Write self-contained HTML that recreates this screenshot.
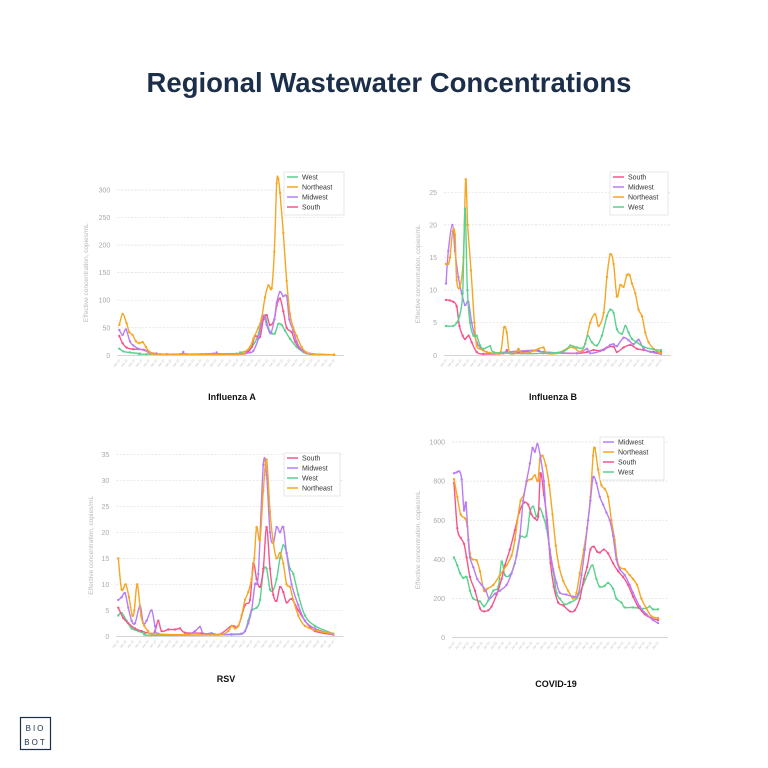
<!DOCTYPE html><html><head><meta charset="utf-8"><style>
html,body{margin:0;padding:0;background:#fff;width:768px;height:768px;overflow:hidden}
svg{display:block}
</style></head><body>
<svg id="s" width="768" height="768" xmlns="http://www.w3.org/2000/svg" font-family="Liberation Sans, sans-serif">
<text x="389" y="92" text-anchor="middle" font-size="27.5" font-weight="bold" fill="#1b2f4b">Regional Wastewater Concentrations</text>
<text x="232" y="400" text-anchor="middle" font-size="9" font-weight="bold" fill="#111">Influenza A</text>
<text x="553" y="400" text-anchor="middle" font-size="9" font-weight="bold" fill="#111">Influenza B</text>
<text x="226" y="682" text-anchor="middle" font-size="9" font-weight="bold" fill="#111">RSV</text>
<text x="556" y="687" text-anchor="middle" font-size="9" font-weight="bold" fill="#111">COVID-19</text>
<rect x="20.5" y="717.5" width="30" height="32" fill="none" stroke="#1b2f4b" stroke-width="1.2"/>
<text x="35.5" y="731" text-anchor="middle" font-size="8" letter-spacing="2" fill="#1b2f4b">BIO</text>
<text x="35.5" y="745" text-anchor="middle" font-size="8" letter-spacing="2" fill="#1b2f4b">BOT</text>
<g id="g"></g>
</svg>
<script>
const C={West:"#5ad18e",Northeast:"#f5a623",Midwest:"#b87cf5",South:"#f5558a"};
const g=document.getElementById("g");let h="";
function P(s){const a=s.trim().split(/[\s,]+/);const r=[];for(const q of a){const [x,v]=q.split(":").map(Number);r.push([x,v]);}return r;}
function smooth(pts){let d=`M${pts[0][0].toFixed(1)},${pts[0][1].toFixed(1)}`;
 for(let i=0;i<pts.length-1;i++){const p0=pts[Math.max(0,i-1)],p1=pts[i],p2=pts[i+1],p3=pts[Math.min(pts.length-1,i+2)];
  const c1x=p1[0]+(p2[0]-p0[0])/6,c1y=p1[1]+(p2[1]-p0[1])/6,c2x=p2[0]-(p3[0]-p1[0])/6,c2y=p2[1]-(p3[1]-p1[1])/6;
  d+=` C${c1x.toFixed(1)},${c1y.toFixed(1)} ${c2x.toFixed(1)},${c2y.toFixed(1)} ${p2[0].toFixed(1)},${p2[1].toFixed(1)}`;}
 return d;}
function chart(o){
 const {x0,x1,z0,z1,y0,ymaxPx,ymax,step,series,leg,lx,ly,lw,ylx}=o;
 const sy=v=>y0-(v/ymax)*(y0-ymaxPx);const sx=z=>x0+(x1-x0)*(z-z0)/(z1-z0);
 for(let v=0;v<=ymax+1e-9;v+=step){const y=sy(v);
  h+=`<line x1="${x0-2}" x2="${x1+10}" y1="${y}" y2="${y}" stroke="${v==0?'#bbb':'#ddd'}" stroke-width="0.7" ${v==0?'':'stroke-dasharray="2,1.5"'}/>`;
  h+=`<text x="${x0-9}" y="${y+2.5}" text-anchor="end" font-size="7" fill="#aaa">${v}</text>`;}
 h+=`<text transform="translate(${ylx},${(y0+ymaxPx)/2}) rotate(-90)" text-anchor="middle" font-size="6.5" fill="#bbb">Effective concentration, copies/mL</text>`;
 for(let i=0;i<30;i++){const x=x0+(x1-x0)*i/29;
  h+=`<text transform="translate(${x+1},${y0+5}) rotate(-50)" text-anchor="end" font-size="3" fill="#bbb">Jan 22</text>`;}
 for(const [name,s] of series){const k=P(s);const pts=k.map(q=>[sx(q[0]),sy(q[1])]);
  h+=`<path d="${smooth(pts)}" fill="none" stroke="${C[name]}" stroke-width="1.4" stroke-linejoin="round"/>`;
  pts.forEach(p=>{h+=`<circle cx="${p[0].toFixed(1)}" cy="${p[1].toFixed(1)}" r="1.2" fill="${C[name]}"/>`;});}
 h+=`<rect x="${lx}" y="${ly}" width="${lw}" height="${leg.length*10+3}" fill="#fff" stroke="#ddd" stroke-width="0.7"/>`;
 leg.forEach((n,i)=>{const y=ly+7+i*10;h+=`<line x1="${lx+3}" x2="${lx+14}" y1="${y-2}" y2="${y-2}" stroke="${C[n]}" stroke-width="1.5"/><text x="${lx+18}" y="${y+0.5}" font-size="7" fill="#333">${n}</text>`;});
}
chart({x0:119.3,x1:334,z0:118,z1:762,y0:355.3,ymaxPx:190,ymax:300,step:50,ylx:88,lx:284,ly:172,lw:60,leg:["West","Northeast","Midwest","South"],series:[
["West","118:12 130:7 150:5 180:3 200:2 470:3 480:5 500:8 515:15 530:30 545:60 555:72 565:50 575:40 585:40 595:57 605:55 615:45 630:30 650:15 670:6 690:2 762:1"],
["South","118:35 128:22 140:14 160:11 175:11 195:9 210:5 230:3 260:2 470:2 500:5 515:15 525:35 540:33 550:65 560:73 570:55 583:65 590:90 600:103 610:80 620:50 635:42 645:25 660:12 680:4 700:2 762:1"],
["Midwest","118:46 128:37 138:47 150:25 160:18 175:12 190:10 205:6 220:3 240:2 300:2 310:6 320:2 400:3 410:5 420:2 480:2 510:5 520:8 535:30 550:72 560:55 572:40 583:65 590:95 600:115 610:107 620:107 628:65 640:45 650:25 665:10 690:3 762:1"],
["Northeast","118:55 128:75 140:58 148:42 158:37 168:25 178:22 188:24 198:15 205:8 215:4 240:2 470:2 490:5 510:15 520:30 535:50 545:68 555:105 565:127 575:122 583:188 590:312 595:320 600:295 610:222 620:135 630:75 640:50 650:35 665:15 680:5 700:2 762:1"]]});
chart({x0:446,x1:661,z0:108,z1:752,y0:355.3,ymaxPx:192.3,ymax:25,step:5,ylx:420,lx:610,ly:172,lw:58,leg:["South","Midwest","Northeast","West"],series:[
["South","108:8.5 120:8.4 130:8.2 140:7.5 148:4.5 158:3 165:2.5 176:3 185:2 200:0.5 220:0.2 280:0.3 290:0.8 300:0.3 370:0.7 400:0.5 500:0.3 530:0.5 550:0.8 570:0.7 590:1.2 610:1.3 620:0.5 640:1.2 660:1.6 680:1 700:0.8 730:0.5 752:0.5"],
["Midwest","108:11 115:16 127:20 135:16 145:12 155:9.5 165:7.7 175:8.2 185:5 200:2 215:1 240:0.3 290:0.5 380:0.8 400:0.5 500:0.3 530:1 540:0.3 580:0.8 600:1.6 610:1.7 620:1.4 640:2.7 655:2.3 670:1.7 685:2.4 700:1 720:0.5 752:0.2"],
["Northeast","108:14 115:14 120:15 128:19 135:18.5 140:11.5 150:10.5 160:15 167:27 173:20 183:13 193:5 200:1.5 210:1 230:0.5 260:0.3 272:0.5 282:4.3 290:3.5 298:0.5 315:0.3 325:1 335:0.3 360:0.5 385:1 400:1.2 410:0.3 440:0.3 470:1 490:1.2 510:0.5 525:1.8 540:5 555:6.3 565:4.5 580:6.5 590:12 600:15.5 610:14 620:9 630:10.8 640:10.5 650:12.3 658:12.3 665:11 675:9.5 685:7 695:6 705:3.5 715:2 730:1 752:0.3"],
["West","108:4.5 130:4.5 140:5 148:6 158:9.5 165:22.5 172:10 180:5 190:3 200:3 210:1.5 220:1 240:1.4 250:0.5 300:0.3 400:0.3 460:0.6 480:1.5 500:1.2 520:1.2 532:3 545:2 560:1.5 575:3 590:6 600:7 610:6.5 620:4 635:3.3 645:4.5 655:3.5 665:2.5 680:2 700:1.3 730:0.9 752:0.8"]]});
chart({x0:118.3,x1:333.3,z0:100,z1:745,y0:636.3,ymaxPx:454.3,ymax:35,step:5,ylx:93,lx:284,ly:453,lw:56,leg:["South","Midwest","West","Northeast"],series:[
["West","100:4 110:4.5 125:3 140:1.5 160:1 180:0.5 200:0.2 440:0.3 470:0.5 480:1 490:3 500:5 515:5.5 525:7 535:12.5 545:13 555:9 565:9 575:11 585:15 595:17.5 605:16 615:13 625:12 640:8 660:4 690:2 745:0.5"],
["South","100:5.5 115:3.5 130:2.5 150:1.5 170:1 200:0.5 210:1 220:3 230:1 250:1.3 270:1.3 285:1.5 300:0.7 350:0.6 400:0.3 440:2 460:2 480:6 495:7 505:14 515:11 525:9.5 535:13 545:21 555:13 565:8 575:6.8 585:9.5 595:8.5 605:6.5 620:7.2 640:5 660:3 690:1 745:0.3"],
["Midwest","100:7 110:7.5 120:8.3 130:5.5 140:3 150:2.5 165:5.8 175:2.5 185:3 200:5 210:2 220:0.5 300:0.3 330:1 345:1.8 355:0.5 380:0.6 400:0.3 440:0.4 470:0.5 480:1 490:2.5 500:5 510:10 520:12 535:33 545:31 555:20 565:18 575:21 585:20 595:21 605:16 620:10 640:6 660:3 690:1.5 745:0.3"],
["Northeast","100:15 110:9 122:10 132:7.5 142:4 148:5 157:10 168:4 178:2 190:1 200:0.5 300:0.3 400:0.3 430:1 440:2 450:1.5 460:2 470:4 480:7 490:8.5 500:11 508:15 515:21 525:18.5 535:28 545:34 555:24 565:18 575:15 585:16 595:14 605:10 615:9.5 625:7 640:4 660:2 700:1 745:0.5"]]});
chart({x0:454,x1:658,z0:162,z1:775,y0:637.7,ymaxPx:442,ymax:1000,step:200,ylx:420,lx:600,ly:437,lw:64,leg:["Midwest","Northeast","South","West"],series:[
["West","162:410 172:370 180:330 190:305 200:310 210:240 220:200 240:185 252:160 265:190 280:240 295:260 305:390 315:320 330:320 345:380 360:510 380:520 390:640 400:670 410:620 420:660 430:620 440:560 450:450 460:340 470:230 480:200 495:170 510:180 530:200 550:270 565:330 578:370 590:300 600:260 615:265 625:280 640:250 650:200 665:180 675:155 700:155 720:150 740:150 750:160 760:145 775:145"],
["South","162:790 172:560 182:510 192:480 200:410 210:310 225:240 240:150 252:135 265:140 275:160 290:220 305:300 315:370 330:450 345:550 358:640 372:690 385:680 395:630 405:610 415:620 422:840 432:730 442:600 452:380 462:260 475:180 490:165 510:135 525:140 540:200 552:300 562:360 572:450 582:465 592:440 600:435 612:450 625:430 640:380 655:340 670:310 685:270 700:210 715:160 735:120 755:100 775:90"],
["Northeast","162:810 172:720 182:630 195:610 202:570 210:430 218:400 230:395 240:340 252:240 262:250 280:270 300:320 320:370 335:420 345:500 352:590 362:700 372:730 382:800 395:810 405:830 414:800 420:910 428:930 438:880 448:780 458:630 468:470 478:360 490:290 505:240 520:200 530:230 540:330 552:450 562:560 572:720 580:930 585:970 595:860 605:780 615:760 625:720 635:600 645:500 652:400 660:360 675:350 690:320 700:300 712:270 725:200 740:150 755:110 775:100"],
["Midwest","162:840 170:845 178:850 185:810 192:650 198:690 205:500 210:410 220:360 232:300 245:270 258:240 268:200 285:225 300:240 320:270 335:330 350:420 360:520 370:700 380:800 390:890 398:970 405:950 413:990 422:920 432:800 440:600 450:450 460:350 470:280 480:230 500:220 520:210 535:220 545:320 555:450 565:600 572:700 580:820 590:790 600:720 610:680 620:640 630:600 640:520 650:400 660:350 675:320 690:270 700:230 720:160 740:120 760:90 775:75"]]});
g.innerHTML=h;
</script>
</body></html>
